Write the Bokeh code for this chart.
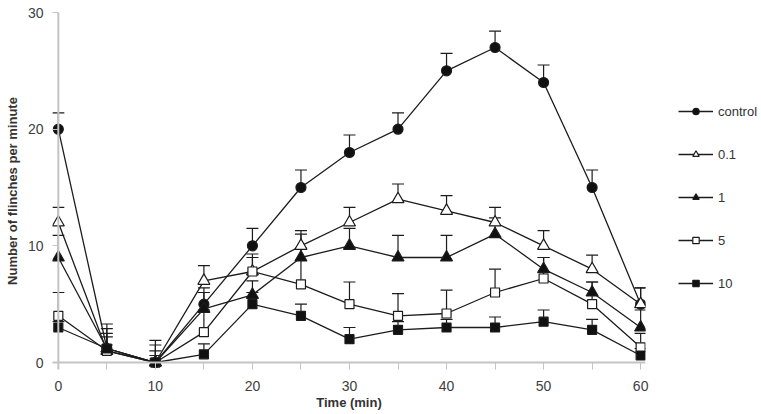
from bokeh.plotting import figure
from bokeh.models import ColumnDataSource, Whisker, TeeHead, Span, FixedTicker, Legend, LegendItem
from bokeh.embed import file_html
from bokeh.resources import INLINE

time_min = [0, 5, 10, 15, 20, 25, 30, 35, 40, 45, 50, 55, 60]

control = [20, 1.2, 0, 5, 10, 15, 18, 20, 25, 27, 24, 15, 5]
control_top = [21.4, 3.3, 1.9, 6.4, 11.5, 16.5, 19.5, 21.4, 26.5, 28.4, 25.5, 16.5, 6.4]

dose_01 = [12, 1.0, 0, 7, 7.8, 10, 12, 14, 13, 12, 10, 8, 5]
dose_01_top = [13.3, 2.9, 1.5, 8.3, 9.3, 11.3, 13.3, 15.3, 14.3, 13.3, 11.3, 9.2, 6.4]

dose_1 = [9, 1.2, 0, 4.6, 5.8, 9, 10, 9, 9, 11, 8, 6, 3]
dose_1_top = [10.9, 2.5, 1.0, 6.0, 7.0, 11.0, 11.5, 10.9, 10.9, 12.4, 9.0, 6.9, 4.5]

dose_5 = [4, 1.0, 0, 2.6, 7.8, 6.7, 5, 4, 4.2, 6, 7.2, 5, 1.3]
dose_5_top = [6.0, 2.2, 0.6, 4.5, 9.0, 9.8, 6.9, 5.9, 6.2, 8.0, 9.0, 6.9, 2.5]

dose_10 = [3, 1.2, 0, 0.7, 5, 4, 2, 2.8, 3, 3, 3.5, 2.8, 0.6]
dose_10_top = [3.5, 1.5, 0.3, 1.6, 6.0, 5.0, 3.0, 3.5, 3.7, 3.9, 4.5, 3.7, 1.2]

labels = ["control", "0.1", "1", "5", "10"]
series = [control, dose_01, dose_1, dose_5, dose_10]
tops = [control_top, dose_01_top, dose_1_top, dose_5_top, dose_10_top]
markers = ["circle", "triangle", "triangle", "square", "square"]
fills = ["#111111", "white", "#111111", "white", "#111111"]
sizes = [10, 12, 12, 9, 9]

x_ticks = [0, 10, 20, 30, 40, 50, 60]
x_minor = [5, 15, 25, 35, 45, 55]
y_ticks = [0, 10, 20, 30]

INK = "#1c1c1c"
AXIS = "#c4c4c4"
FONT = "Liberation Sans"

p = figure(frame_width=593, frame_height=357, x_range=(-0.6, 60.5), y_range=(-0.6, 30),
           output_backend="svg", toolbar_location=None,
           min_border_left=52, min_border_top=12, min_border_right=116, min_border_bottom=45)
p.grid.visible = False
p.outline_line_color = None
p.background_fill_color = "white"

p.add_layout(Span(location=0, dimension="width", line_color=AXIS, line_width=2))
p.add_layout(Span(location=0, dimension="height", line_color=AXIS, line_width=2))

items = []
for lab, ys, tp, mk, fc, sz in zip(labels, series, tops, markers, fills, sizes):
    src = ColumnDataSource(dict(x=time_min, y=ys, top=tp))
    ln = p.line("x", "y", source=src, line_color=INK, line_width=1.3)
    w = Whisker(base="x", upper="top", lower="y", source=src, dimension="height",
                line_color=INK, line_width=1.2, lower_head=None,
                upper_head=TeeHead(size=12, line_color=INK, line_width=1.2))
    p.add_layout(w)
    sc = p.scatter("x", "y", source=src, marker=mk, size=sz, fill_color=fc,
                   line_color=INK, line_width=1.2)
    items.append(LegendItem(label=lab, renderers=[ln, sc]))

legend = Legend(items=items, location=(33, 78), padding=0, margin=0,
                glyph_width=35, glyph_height=16, label_height=16, spacing=27,
                label_standoff=5, label_text_font=FONT, label_text_font_size="13px",
                label_text_color="#333333", border_line_color=None,
                background_fill_alpha=0)
p.add_layout(legend, "right")

xa = p.xaxis[0]
xa.ticker = FixedTicker(ticks=x_ticks, minor_ticks=x_minor)
xa.axis_line_color = None
xa.major_tick_line_color = AXIS
xa.minor_tick_line_color = AXIS
xa.major_tick_in = 7
xa.major_tick_out = 0
xa.minor_tick_in = 7
xa.minor_tick_out = 0
xa.major_label_text_font = FONT
xa.major_label_text_font_size = "14px"
xa.major_label_text_color = "#404040"
xa.major_label_standoff = 11
xa.axis_label = "Time (min)"
xa.axis_label_text_font = FONT
xa.axis_label_text_font_size = "13px"
xa.axis_label_text_font_style = "bold"
xa.axis_label_text_color = "#333333"
xa.axis_label_standoff = 1

ya = p.yaxis[0]
ya.ticker = FixedTicker(ticks=y_ticks, minor_ticks=[])
ya.axis_line_color = None
ya.major_tick_line_color = AXIS
ya.major_tick_in = 6
ya.major_tick_out = 0
ya.minor_tick_line_color = None
ya.major_label_text_font = FONT
ya.major_label_text_font_size = "14px"
ya.major_label_text_color = "#404040"
ya.major_label_standoff = 9
ya.axis_label = "Number of flinches per minute"
ya.axis_label_text_font = FONT
ya.axis_label_text_font_size = "13px"
ya.axis_label_text_font_style = "bold"
ya.axis_label_text_color = "#333333"
ya.axis_label_standoff = 5

open("out.html", "w").write(file_html(p, INLINE))
